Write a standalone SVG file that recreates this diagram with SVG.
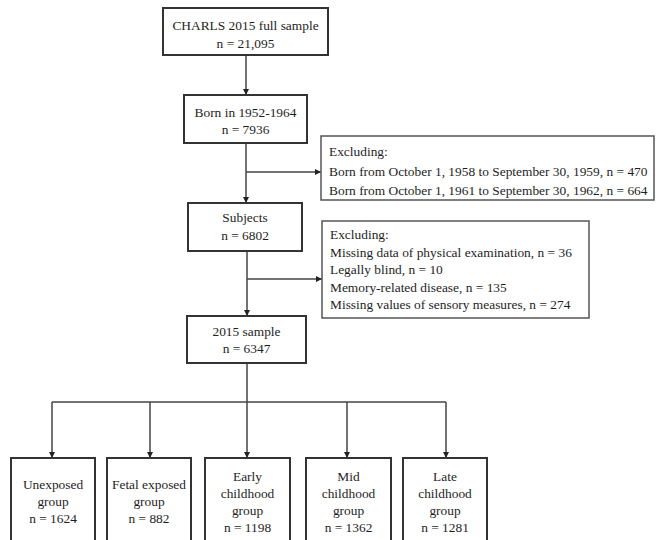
<svg xmlns="http://www.w3.org/2000/svg" width="656" height="540" viewBox="0 0 656 540">
<defs>
<style>
.box{fill:#fff;stroke:#333;stroke-width:2}
.ex{fill:#fff;stroke:#555;stroke-width:1.5}
.t{font-family:"Liberation Serif","Times New Roman",serif;font-size:13.4px;fill:#1e1e1e}
.c{text-anchor:middle}
.ln{fill:none;stroke:#444;stroke-width:1.5}
</style>
<marker id="ah" viewBox="0 0 10 10" refX="10" refY="5" markerWidth="6" markerHeight="6" orient="auto" markerUnits="userSpaceOnUse">
<path d="M0,0 L10,5 L0,10 z" fill="#222"/>
</marker>
</defs>
<rect width="656" height="540" fill="#fff"/>
<g id="connectors">
<line class="ln" x1="246" y1="55" x2="246" y2="95" marker-end="url(#ah)"/>
<line class="ln" x1="246" y1="143" x2="246" y2="203" marker-end="url(#ah)"/>
<line class="ln" x1="246" y1="172" x2="321" y2="172" marker-end="url(#ah)"/>
<line class="ln" x1="247" y1="251" x2="247" y2="316" marker-end="url(#ah)"/>
<line class="ln" x1="247" y1="279" x2="322" y2="279" marker-end="url(#ah)"/>
<line class="ln" x1="247" y1="363" x2="247" y2="458" marker-end="url(#ah)"/>
<line class="ln" x1="52" y1="402" x2="446" y2="402"/>
<line class="ln" x1="52" y1="402" x2="52" y2="458" marker-end="url(#ah)"/>
<line class="ln" x1="150" y1="402" x2="150" y2="458" marker-end="url(#ah)"/>
<line class="ln" x1="347" y1="402" x2="347" y2="458" marker-end="url(#ah)"/>
<line class="ln" x1="446" y1="402" x2="446" y2="458" marker-end="url(#ah)"/>
</g>
<g id="n_full">
<rect class="box" x="163" y="8" width="165" height="47"/>
<text class="t c" x="245.5" y="30">CHARLS 2015 full sample</text>
<text class="t c" x="245.5" y="48">n = 21,095</text>
</g>
<g id="n_born">
<rect class="box" x="184" y="95" width="123" height="48"/>
<text class="t c" x="245.5" y="117">Born in 1952-1964</text>
<text class="t c" x="245.5" y="134">n = 7936</text>
</g>
<g id="n_excl1">
<rect class="ex" x="321" y="136" width="333" height="64"/>
<text class="t" x="329" y="156">Excluding:</text>
<text class="t" x="329" y="176">Born from October 1, 1958 to September 30, 1959, n = 470</text>
<text class="t" x="329" y="195">Born from October 1, 1961 to September 30, 1962, n = 664</text>
</g>
<g id="n_subjects">
<rect class="box" x="188" y="203" width="114" height="48"/>
<text class="t c" x="245" y="222">Subjects</text>
<text class="t c" x="245" y="240">n = 6802</text>
</g>
<g id="n_excl2">
<rect class="ex" x="322" y="221" width="267" height="97"/>
<text class="t" x="330" y="239">Excluding:</text>
<text class="t" x="330" y="257">Missing data of physical examination, n = 36</text>
<text class="t" x="330" y="274">Legally blind, n = 10</text>
<text class="t" x="330" y="292">Memory-related disease, n = 135</text>
<text class="t" x="330" y="309">Missing values of sensory measures, n = 274</text>
</g>
<g id="n_2015">
<rect class="box" x="187" y="316" width="119" height="47"/>
<text class="t c" x="246.5" y="336">2015 sample</text>
<text class="t c" x="246.5" y="353">n = 6347</text>
</g>
<g id="n_unexposed">
<rect class="box" x="11" y="458" width="84" height="90"/>
<text class="t c" x="53" y="489">Unexposed</text>
<text class="t c" x="53" y="506">group</text>
<text class="t c" x="53" y="523">n = 1624</text>
</g>
<g id="n_fetal">
<rect class="box" x="107" y="458" width="84" height="90"/>
<text class="t c" x="149" y="489">Fetal exposed</text>
<text class="t c" x="149" y="506">group</text>
<text class="t c" x="149" y="523">n = 882</text>
</g>
<g id="n_early">
<rect class="box" x="205" y="458" width="85" height="90"/>
<text class="t c" x="247.5" y="481">Early</text>
<text class="t c" x="247.5" y="498">childhood</text>
<text class="t c" x="247.5" y="515">group</text>
<text class="t c" x="247.5" y="532">n = 1198</text>
</g>
<g id="n_mid">
<rect class="box" x="306" y="458" width="85" height="90"/>
<text class="t c" x="348.5" y="481">Mid</text>
<text class="t c" x="348.5" y="498">childhood</text>
<text class="t c" x="348.5" y="515">group</text>
<text class="t c" x="348.5" y="532">n = 1362</text>
</g>
<g id="n_late">
<rect class="box" x="403" y="458" width="84" height="90"/>
<text class="t c" x="445" y="481">Late</text>
<text class="t c" x="445" y="498">childhood</text>
<text class="t c" x="445" y="515">group</text>
<text class="t c" x="445" y="532">n = 1281</text>
</g>
</svg>
